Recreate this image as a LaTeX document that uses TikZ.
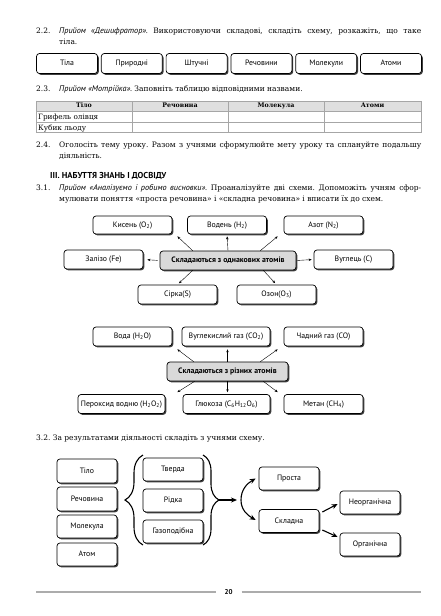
\documentclass[tikz,border=0pt]{standalone}
\usepackage{fontspec}
\setmainfont{DejaVu Serif}
\setsansfont{PT Sans}
\usetikzlibrary{positioning,shadows,arrows.meta,decorations.pathreplacing}
\newcommand{\method}[1]{{\sffamily\itshape\fontsize{8.2}{11}\selectfont #1}}

\begin{document}
\frenchspacing
\begin{tikzpicture}[
  x=1pt,y=-1pt,
  every node/.style={inner sep=0pt},
  bodytext/.style={font=\fontsize{7.5}{11}\selectfont},
  para/.style={bodytext,anchor=base west,text width=362pt,align=justify},
  num/.style={bodytext,anchor=base west},
  card/.style={draw,line width=0.7pt,rounded corners=3pt,fill=white,
    drop shadow={shadow xshift=1.3pt,shadow yshift=-1.3pt,fill=black!75,opacity=1},
    font=\sffamily\fontsize{7.8}{9}\selectfont,minimum height=19pt,
    text height=5.6pt,text depth=1.4pt},
  hub/.style={card,fill=gray!30,font=\sffamily\bfseries\fontsize{7.8}{9}\selectfont},
  link/.style={-{Stealth[length=3pt,width=2.4pt]},line width=0.4pt},
  thickarrow/.style={-{Stealth[length=6pt,width=5pt]},line width=1.1pt},
  curly/.style={decorate,decoration={brace,amplitude=#1},line width=1.1pt},
  cell/.style={draw=gray!70,line width=0.5pt},
  headcell/.style={font=\bfseries\fontsize{6.3}{8}\selectfont,text height=4.6pt,text depth=1.2pt},
  rowcell/.style={anchor=base west,font=\fontsize{7.3}{8}\selectfont}]

  \fill[white] (0,0) rectangle (441,616);
  \useasboundingbox (0,0) rectangle (441,616);

  % 2.2
  \node[num] (n22) at (36,33.5) {2.2.};
  \node[para] (t22) at (59,33.5) {\method{Прийом «Дешифратор».}
    Використовуючи складові, складіть схему, розкажіть, що таке\linebreak тіла.};
  \foreach \name/\lbl [count=\i] in {tila/Тіла,pryrodni/Природні,shtuchni/Штучні,
      rechovyny/Речовини,molekuly/Молекули,atomy/Атоми}
    \node[card,minimum width=61pt,minimum height=20pt] (\name) at ({67+(\i-1)*64.8},63.5) {\lbl};

  % 2.3 -- the table
  \node[num] (n23) at (36,91.5) {2.3.};
  \node[para] (t23) at (59,91.5) {\method{Прийом «Мотрійка».}
    Заповніть таблицю відповідними назвами.};
  \fill[gray!25] (36,101) rectangle (421,111);
  \draw[cell] (36,101) rectangle (421,132);
  \draw[cell] (36,111) -- (421,111);
  \draw[cell] (36,122) -- (421,122);
  \foreach \xx in {132,228,324}
    \draw[cell] (\xx,101) -- (\xx,132);
  \node[headcell] (hTilo) at (84,106) {Тіло};
  \node[headcell] (hRechovyna) at (180,106) {Речовина};
  \node[headcell] (hMolekula) at (276,106) {Молекула};
  \node[headcell] (hAtomy) at (372.5,106) {Атоми};
  \node[rowcell] (rGryfel) at (38,119.5) {Грифель олівця};
  \node[rowcell] (rKubyk) at (38,130) {Кубик льоду};

  % 2.4
  \node[num] (n24) at (36,147.5) {2.4.};
  \node[para] (t24) at (59,147.5) {Оголосіть тему уроку. Разом з учнями сформулюйте
    мету уроку та сплануйте подальшу\linebreak діяльність.};

  % III
  \node[anchor=base west,font=\sffamily\bfseries\fontsize{8.6}{10}\selectfont] (head3)
    at (50,178.5) {III. НАБУТТЯ ЗНАНЬ І ДОСВІДУ};

  % 3.1
  \node[num] (n31) at (36,190.5) {3.1.};
  \node[para] (t31) at (59,190.5) {\method{Прийом «Аналізуємо і робимо висновки».}
    Проаналізуйте дві схеми. Допоможіть учням сфор-\linebreak мулювати поняття
    «проста речовина» і «складна речовина» і вписати їх до схем.};

  % first scheme: same atoms
  \node[hub,minimum width=136pt] (same) at (228,260.5) {Складаються з однакових атомів};
  \node[card,minimum width=79pt,minimum height=18pt] (kysen)  at (132.5,225) {Кисень (O\textsubscript{2})};
  \node[card,minimum width=79pt,minimum height=18pt] (voden)  at (227,225)   {Водень (H\textsubscript{2})};
  \node[card,minimum width=79pt,minimum height=18pt] (azot)   at (323.5,225) {Азот (N\textsubscript{2})};
  \node[card,minimum width=79pt,minimum height=19pt] (zalizo) at (103.5,259.5) {Залізо (Fe)};
  \node[card,minimum width=79pt,minimum height=19pt] (vuglec) at (353.5,259.5) {Вуглець (C)};
  \node[card,minimum width=79pt,minimum height=19pt] (sirka)  at (177.5,294.5) {Сірка(S)};
  \node[card,minimum width=79pt,minimum height=19pt] (ozon)   at (276.5,294.5) {Озон(O\textsubscript{3})};

  \draw[link] ([xshift=33pt]same.north west) -- ([xshift=5pt,yshift=-2pt]kysen.south east);
  \draw[link,shorten >=2pt] (same.north) -- (voden.south);
  \draw[link] ([xshift=-36pt]same.north east) -- ([xshift=-6pt,yshift=-2pt]azot.south west);
  \draw[link,shorten <=2pt,shorten >=4pt] (same.west) -- (zalizo.east);
  \draw[link,shorten <=1pt,shorten >=2pt] (same.east) -- (vuglec.east -| vuglec.west);
  \draw[link,shorten >=2pt] ([xshift=33pt]same.south west) -- (sirka.north);
  \draw[link,shorten >=2pt] ([xshift=-33pt]same.south east) -- (ozon.north);

  % second scheme: different atoms
  \node[hub,minimum width=121pt] (diff) at (227.5,371.5) {Складаються з різних атомів};
  \node[card,minimum width=79pt] (voda)     at (132.5,336.5) {Вода (H\textsubscript{2}O)};
  \node[card,minimum width=88pt] (vuglgaz)  at (226,336.5)   {Вуглекислий газ (CO\textsubscript{2})};
  \node[card,minimum width=79pt] (chadgaz)  at (323.5,336.5) {Чадний газ (CO)};
  \node[card,minimum width=87pt] (peroksyd) at (121.5,404)   {Пероксид водню (H\textsubscript{2}O\textsubscript{2})};
  \node[card,minimum width=87pt] (glukoza)  at (226.5,404)   {Глюкоза (C\textsubscript{6}H\textsubscript{12}O\textsubscript{6})};
  \node[card,minimum width=79pt] (metan)    at (323.5,404)   {Метан (CH\textsubscript{4})};

  \draw[link] ([xshift=27pt]diff.north west) -- ([xshift=5pt,yshift=-3pt]voda.south east);
  \draw[link,shorten >=3pt] (diff.north) -- (vuglgaz.south -| diff.north);
  \draw[link] ([xshift=-28pt]diff.north east) -- ([xshift=-6pt,yshift=-3pt]chadgaz.south west);
  \draw[link] ([xshift=28pt]diff.south west) -- ([xshift=12pt,yshift=2pt]peroksyd.north east);
  \draw[link,shorten >=2pt] (diff.south) -- (glukoza.north -| diff.south);
  \draw[link] ([xshift=-25pt]diff.south east) -- ([xshift=-6pt,yshift=2pt]metan.north west);

  % 3.2
  \node[anchor=base west,bodytext] (t32) at (36,440.5)
    {3.2. За результатами діяльності складіть з учнями схему.};

  % third scheme
  \node[card,minimum width=60pt,minimum height=24pt] (tilo)      at (87,471)   {Тіло};
  \node[card,minimum width=60pt,minimum height=24pt] (rechovyna) at (87,499)   {Речовина};
  \node[card,minimum width=60pt,minimum height=23pt] (molekula)  at (87,526.5) {Молекула};
  \node[card,minimum width=60pt,minimum height=23pt] (atom)      at (87,554.5) {Атом};

  \node[card,minimum width=60pt,minimum height=23pt] (tverda)    at (173,469.5) {Тверда};
  \node[card,minimum width=60pt,minimum height=23pt] (ridka)     at (173,500.5) {Рідка};
  \node[card,minimum width=60pt,minimum height=23pt] (gazopod)   at (173,531.5) {Газоподібна};

  \node[card,minimum width=60pt,minimum height=23pt] (prosta)    at (289,478.5) {Проста};
  \node[card,minimum width=60pt,minimum height=23pt] (skladna)   at (289,521)   {Складна};
  \node[card,minimum width=60pt,minimum height=23pt] (neorg)     at (370,502.5) {Неорганічна};
  \node[card,minimum width=60pt,minimum height=23pt] (org)       at (370,544.5) {Органічна};

  \coordinate (ltop) at (143,455);
  \coordinate (lbot) at (143,545);
  \coordinate (rtop) at (203,455);
  \coordinate (rbot) at (203,545);
  \coordinate (rtip) at (219,500);
  \coordinate (split) at (241,500);

  \draw[curly=18pt] (lbot) -- (ltop);
  \draw[curly=16pt] (rtop) -- (rbot);
  \draw[thickarrow] (rtip) -- ([xshift=-4pt]split);
  \draw[thickarrow] (split) to[out=90,in=210] ([xshift=-3pt]prosta.west);
  \draw[thickarrow] (split) to[out=-90,in=150] ([xshift=-3pt,yshift=1pt]skladna.west);
  \draw[thickarrow] ([xshift=3pt,yshift=9pt]skladna.east) -- ([xshift=-2pt,yshift=-1.5pt]neorg.west);
  \draw[thickarrow] ([xshift=3pt,yshift=-9pt]skladna.east) -- ([xshift=-2pt,yshift=7.5pt]org.west);

  % page footer
  \node[font=\sffamily\bfseries\fontsize{7}{8}\selectfont] (pageno) at (228.5,592) {20};
  \draw[gray!65,line width=1.3pt] (36,592) -- ([xshift=-13pt]pageno.center);
  \draw[gray!65,line width=1.3pt] ([xshift=13pt]pageno.center) -- (421,592);
\end{tikzpicture}
\end{document}
